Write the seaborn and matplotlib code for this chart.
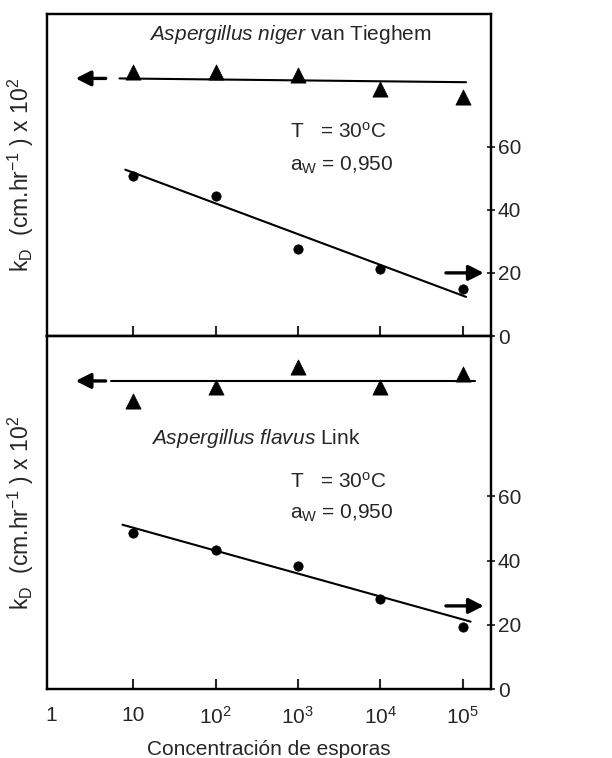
import numpy as np
import seaborn as sns
import matplotlib.pyplot as plt

# spore concentrations (x axis, log scale)
conc = [10, 100, 1000, 10000, 100000]

# A. niger: triangles (left scale) and circles (right scale, kD x 100)
niger_tri = [83.5, 83.5, 82.7, 78.4, 75.6]
niger_circ = [50.8, 44.4, 27.6, 21.3, 14.9]
niger_tri_fit_x = [6.8, 1.1e5]
niger_tri_fit_y = [81.6, 80.4]
niger_circ_fit_x = [8.0, 1.1e5]
niger_circ_fit_y = [52.7, 12.4]

# A. flavus
flavus_tri = [89.8, 94.0, 100.4, 94.0, 98.2]
flavus_circ = [48.7, 43.4, 38.4, 28.2, 19.4]
flavus_tri_fit_x = [5.4, 1.4e5]
flavus_tri_fit_y = [96.0, 96.0]
flavus_circ_fit_x = [7.4, 1.25e5]
flavus_circ_fit_y = [51.2, 21.0]

right_ticks = [0, 20, 40, 60]
x_ticks = [1, 10, 100, 1000, 10000, 100000]
x_labels = ["1", "10", r"$10^{2}$", r"$10^{3}$", r"$10^{4}$", r"$10^{5}$"]

sns.set_theme(style="ticks")
plt.rcParams['font.family'] = ['Liberation Sans', 'DejaVu Sans']
plt.rcParams['mathtext.fontset'] = 'custom'
plt.rcParams['mathtext.rm'] = 'Liberation Sans'
plt.rcParams['mathtext.it'] = 'Liberation Sans:italic'
plt.rcParams['mathtext.bf'] = 'Liberation Sans:bold'

fig = plt.figure(figsize=(6.12, 7.58), dpi=100)
ax_top = fig.add_axes([0.077, 0.5567, 0.725, 0.4248])
ax_bot = fig.add_axes([0.077, 0.091, 0.725, 0.4657])

panels = [
    (ax_top, niger_tri, niger_circ, niger_tri_fit_x, niger_tri_fit_y,
     niger_circ_fit_x, niger_circ_fit_y, 102,
     r"$\it{Aspergillus\ niger}$ van Tieghem", (0.547, 0.935), (0.547, 0.634, 0.531),
     81.6, 20.0),
    (ax_bot, flavus_tri, flavus_circ, flavus_tri_fit_x, flavus_tri_fit_y,
     flavus_circ_fit_x, flavus_circ_fit_y, 110,
     r"$\it{Aspergillus\ flavus}$ Link", (0.471, 0.711), (0.547, 0.586, 0.499),
     96.0, 25.9),
]

ylabel = r"k$_\mathrm{D}$  (cm.hr$^{-1}$ ) x 10$^{2}$"

for (ax, tri, circ, tfx, tfy, cfx, cfy, ytop, title, tpos, cpos, larrow_y, rarrow_y) in panels:
    axr = ax.twinx()
    for a in (ax, axr):
        a.set_xscale("log")
        a.set_xlim(0.9, 2.2e5)
        a.set_ylim(0, ytop)
        a.minorticks_off()
    # triangles on the left scale
    sns.lineplot(x=tfx, y=tfy, ax=ax, color="black", linewidth=1.5)
    sns.scatterplot(x=conc, y=tri, ax=ax, marker="^", s=120, color="black",
                    edgecolor="black", linewidth=0.5, zorder=3)
    # circles on the right scale
    sns.lineplot(x=cfx, y=cfy, ax=axr, color="black", linewidth=1.5)
    sns.scatterplot(x=conc, y=circ, ax=axr, marker="o", s=45, color="black",
                    edgecolor="black", zorder=3)

    ax.set_yticks([])
    ax.set_ylabel(ylabel, fontsize=16.5, labelpad=8)
    axr.set_yticks(right_ticks)
    axr.set_yticklabels([str(t) for t in right_ticks], fontsize=15)
    axr.tick_params(axis="y", direction="inout", length=6, width=1.3, pad=2)
    axr.set_ylabel("")

    ax.set_xticks(x_ticks)
    ax.tick_params(axis="x", direction="in", length=7, width=1.5)
    ax.xaxis.get_major_ticks()[0].tick1line.set_visible(False)
    axr.tick_params(axis="x", which="both", length=0)

    for a in (ax, axr):
        for sp in a.spines.values():
            sp.set_linewidth(1.6)
            sp.set_color("black")

    ax.text(tpos[0], tpos[1], title, transform=ax.transAxes, ha="center",
            va="center", fontsize=15)
    ax.text(cpos[0], cpos[1], r"T   = 30$^\mathrm{o}$C", transform=ax.transAxes,
            ha="left", va="center", fontsize=15)
    ax.text(cpos[0], cpos[2], r"a$_\mathrm{W}$ = 0,950", transform=ax.transAxes,
            ha="left", va="center", fontsize=15)

    # axis-direction arrows
    ax.annotate("", xy=(1.85, larrow_y), xytext=(5.0, larrow_y),
                arrowprops=dict(arrowstyle="-|>,head_length=0.75,head_width=0.38",
                                color="black", lw=2.4))
    axr.annotate("", xy=(1.95e5, rarrow_y), xytext=(5.8e4, rarrow_y),
                 arrowprops=dict(arrowstyle="-|>,head_length=0.75,head_width=0.38",
                                 color="black", lw=2.4))

ax_top.set_xticklabels([])
ax_top.set_xlabel("")
ax_bot.set_xticklabels(x_labels, fontsize=15)
ax_bot.tick_params(axis="x", pad=12)
ax_bot.set_xlabel("Concentración de esporas", fontsize=15, labelpad=9)

plt.savefig("out.png", dpi=100)
plt.close()
